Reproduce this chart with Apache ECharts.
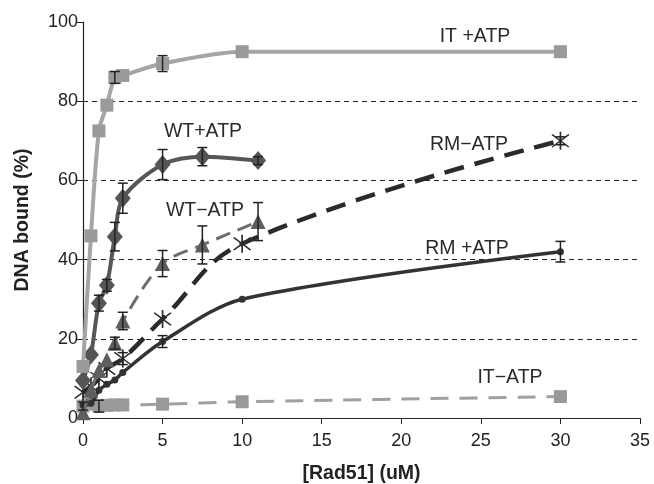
<!DOCTYPE html>
<html>
<head>
<meta charset="utf-8">
<script src="https://cdn.jsdelivr.net/npm/echarts@6/dist/echarts.min.js"></script>
<style>
  html, body { margin: 0; padding: 0; background: #fff; }
  #chart { width: 654px; height: 484px; }
</style>
</head>
<body>
<div id="chart"></div>
<script>
// --- data ---
const xTicks = [0, 5, 10, 15, 20, 25, 30, 35];
const yTicks = [0, 20, 40, 60, 80, 100];
const gridVals = [20, 40, 60, 80];

const itPlusX = [0, 0.5, 1, 1.5, 2, 2.5, 5, 10, 30];
const itPlusY = [13, 46, 72.5, 79, 86, 86.5, 89.5, 92.5, 92.5];
const itPlusErr = [0, 0, 0, 0, 1.5, 0, 2, 0, 0];

const wtPlusX = [0, 0.5, 1, 1.5, 2, 2.5, 5, 7.5, 11];
const wtPlusY = [9.5, 16, 29, 33.5, 45.8, 55.5, 64, 66, 65];
const wtPlusErr = [0, 0, 2, 1.5, 3.6, 3.8, 3.8, 2.3, 1];

const wtMinusX = [0, 0.5, 1, 1.5, 2, 2.5, 5, 7.5, 11];
const wtMinusY = [1.3, 7, 12, 14.7, 18.9, 24.5, 39, 43.7, 49.6];
const wtMinusErr = [0, 0, 0, 0, 1.5, 2.2, 3.3, 4.8, 4.8];

const rmMinusX = [0, 0.5, 1, 1.5, 2.5, 5, 10, 30];
const rmMinusY = [6.5, 8, 10, 12.5, 15, 25, 44, 70];
const rmMinusErr = [0, 0, 0, 0, 1.5, 0, 0, 1];

const rmPlusX = [0, 0.5, 1, 1.5, 2, 2.5, 5, 10, 30];
const rmPlusY = [3.3, 3.7, 7, 8.5, 9.6, 11.5, 19.3, 30, 42];
const rmPlusErr = [0, 0, 0, 0, 0, 0, 1.5, 0, 2.6];

const itMinusX = [0, 0.5, 1, 1.5, 2, 2.5, 5, 10, 30];
const itMinusY = [3, 3.5, 3, 3.2, 3.3, 3.3, 3.5, 4.1, 5.4];
const itMinusErr = [1, 0, 1.5, 0, 0, 0, 0, 0, 0];

const labels = [
  { text: "IT +ATP", x: 475, y: 37 },
  { text: "WT+ATP", x: 203, y: 132 },
  { text: "WT\u2212ATP", x: 205, y: 211 },
  { text: "RM\u2212ATP", x: 469, y: 145 },
  { text: "RM +ATP", x: 467, y: 249 },
  { text: "IT\u2212ATP", x: 510, y: 378 },
];

const FONT = '"Liberation Sans", Arial, Helvetica, sans-serif';
const asterisk = "path://M0.7,-10L0.7,10L-0.7,10L-0.7,-10Z" +
  "M-6.5,-7.5L7.5,6.5L6.5,7.5L-7.5,-6.5Z" +
  "M-7.5,6.5L6.5,-7.5L7.5,-6.5L-6.5,7.5Z";

const pairs = (xs, ys) => xs.map((x, i) => [x, ys[i]]);

function lineSeries(name, xs, ys, opts) {
  return {
    name,
    type: "line",
    data: pairs(xs, ys),
    smooth: opts.smooth || 0.3,
    symbol: opts.symbol,
    symbolSize: opts.symbolSize,
    lineStyle: { color: opts.line, width: opts.width, type: opts.dash || "solid" },
    itemStyle: { color: opts.marker },
    z: opts.z,
    silent: true,
  };
}

function errSeries(xs, ys, es, z) {
  return {
    type: "custom",
    z,
    silent: true,
    data: xs.map((x, i) => [x, ys[i], es[i]]).filter((d) => d[2] > 0),
    encode: { x: 0, y: 1 },
    renderItem: (params, api) => {
      const x = api.value(0), y = api.value(1), e = api.value(2);
      const top = api.coord([x, y + e]);
      const bot = api.coord([x, y - e]);
      const st = { stroke: "#222", lineWidth: 1.5 };
      return {
        type: "group",
        children: [
          { type: "line", shape: { x1: top[0], y1: top[1], x2: bot[0], y2: bot[1] }, style: st },
          { type: "line", shape: { x1: top[0] - 5, y1: top[1], x2: top[0] + 5, y2: top[1] }, style: st },
          { type: "line", shape: { x1: bot[0] - 5, y1: bot[1], x2: bot[0] + 5, y2: bot[1] }, style: st },
        ],
      };
    },
  };
}

const chart = echarts.init(document.getElementById("chart"));
chart.setOption({
  animation: false,
  backgroundColor: "#fff",
  grid: { left: 83, right: 14, top: 22, bottom: 66, outerBoundsMode: "none", containLabel: false },
  xAxis: {
    type: "value",
    min: 0, max: 35, interval: 5,
    name: "[Rad51] (uM)",
    nameLocation: "middle",
    nameGap: 46,
    nameTextStyle: { fontFamily: FONT, fontSize: 19.5, fontWeight: "bold", color: "#222" },
    axisLine: { lineStyle: { color: "#222", width: 1.2 } },
    axisTick: { length: 6, lineStyle: { color: "#222" } },
    axisLabel: { fontFamily: FONT, fontSize: 18, color: "#222", margin: 14 },
    splitLine: { show: false },
  },
  yAxis: {
    type: "value",
    min: 0, max: 100, interval: 20,
    name: "DNA bound (%)",
    nameLocation: "middle",
    nameGap: 50,
    nameTextStyle: { fontFamily: FONT, fontSize: 19.5, fontWeight: "bold", color: "#222" },
    axisLine: { show: true, lineStyle: { color: "#222", width: 1.2 } },
    axisTick: { show: true, length: 6, lineStyle: { color: "#222" } },
    axisLabel: { fontFamily: FONT, fontSize: 18, color: "#222", margin: 5 },
    splitLine: { show: false },
  },
  graphic: labels.map((l) => ({
    type: "text",
    x: l.x, y: l.y,
    style: { text: l.text, fontFamily: FONT, fontSize: 19.5, fill: "#2a2a2a", align: "center", verticalAlign: "middle" },
    z: 100,
  })),
  series: [
    {
      type: "line",
      data: [],
      z: 1,
      silent: true,
      markLine: {
        silent: true,
        symbol: "none",
        label: { show: false },
        lineStyle: { color: "#222", width: 1, type: [5, 4] },
        data: gridVals.map((v) => ({ yAxis: v })),
      },
    },
    lineSeries("IT-ATP", itMinusX, itMinusY, { symbol: "rect", symbolSize: 13, line: "#a0a0a0", marker: "#999", width: 3, dash: [18, 11], z: 3 }),
    lineSeries("RM+ATP", rmPlusX, rmPlusY, { symbol: "circle", symbolSize: 7, line: "#333", marker: "#333", width: 3.5, z: 4 }),
    lineSeries("RM-ATP", rmMinusX, rmMinusY, { symbol: asterisk, symbolSize: 18, line: "#2b2b2b", marker: "#2b2b2b", width: 4.5, dash: [20, 11], z: 5, smooth: 0.4 }),
    lineSeries("WT-ATP", wtMinusX, wtMinusY, { symbol: "triangle", symbolSize: 15, line: "#6e6e6e", marker: "#5e5e5e", width: 3, dash: [15, 8], z: 6 }),
    lineSeries("WT+ATP", wtPlusX, wtPlusY, { symbol: "diamond", symbolSize: [16, 19], line: "#575757", marker: "#555", width: 4, z: 7 }),
    lineSeries("IT+ATP", itPlusX, itPlusY, { symbol: "rect", symbolSize: 13, line: "#a5a5a5", marker: "#9a9a9a", width: 4, z: 8 }),
    errSeries(itMinusX, itMinusY, itMinusErr, 9),
    errSeries(rmPlusX, rmPlusY, rmPlusErr, 9),
    errSeries(rmMinusX, rmMinusY, rmMinusErr, 9),
    errSeries(wtMinusX, wtMinusY, wtMinusErr, 9),
    errSeries(wtPlusX, wtPlusY, wtPlusErr, 9),
    errSeries(itPlusX, itPlusY, itPlusErr, 9),
  ],
});
</script>
</body>
</html>
